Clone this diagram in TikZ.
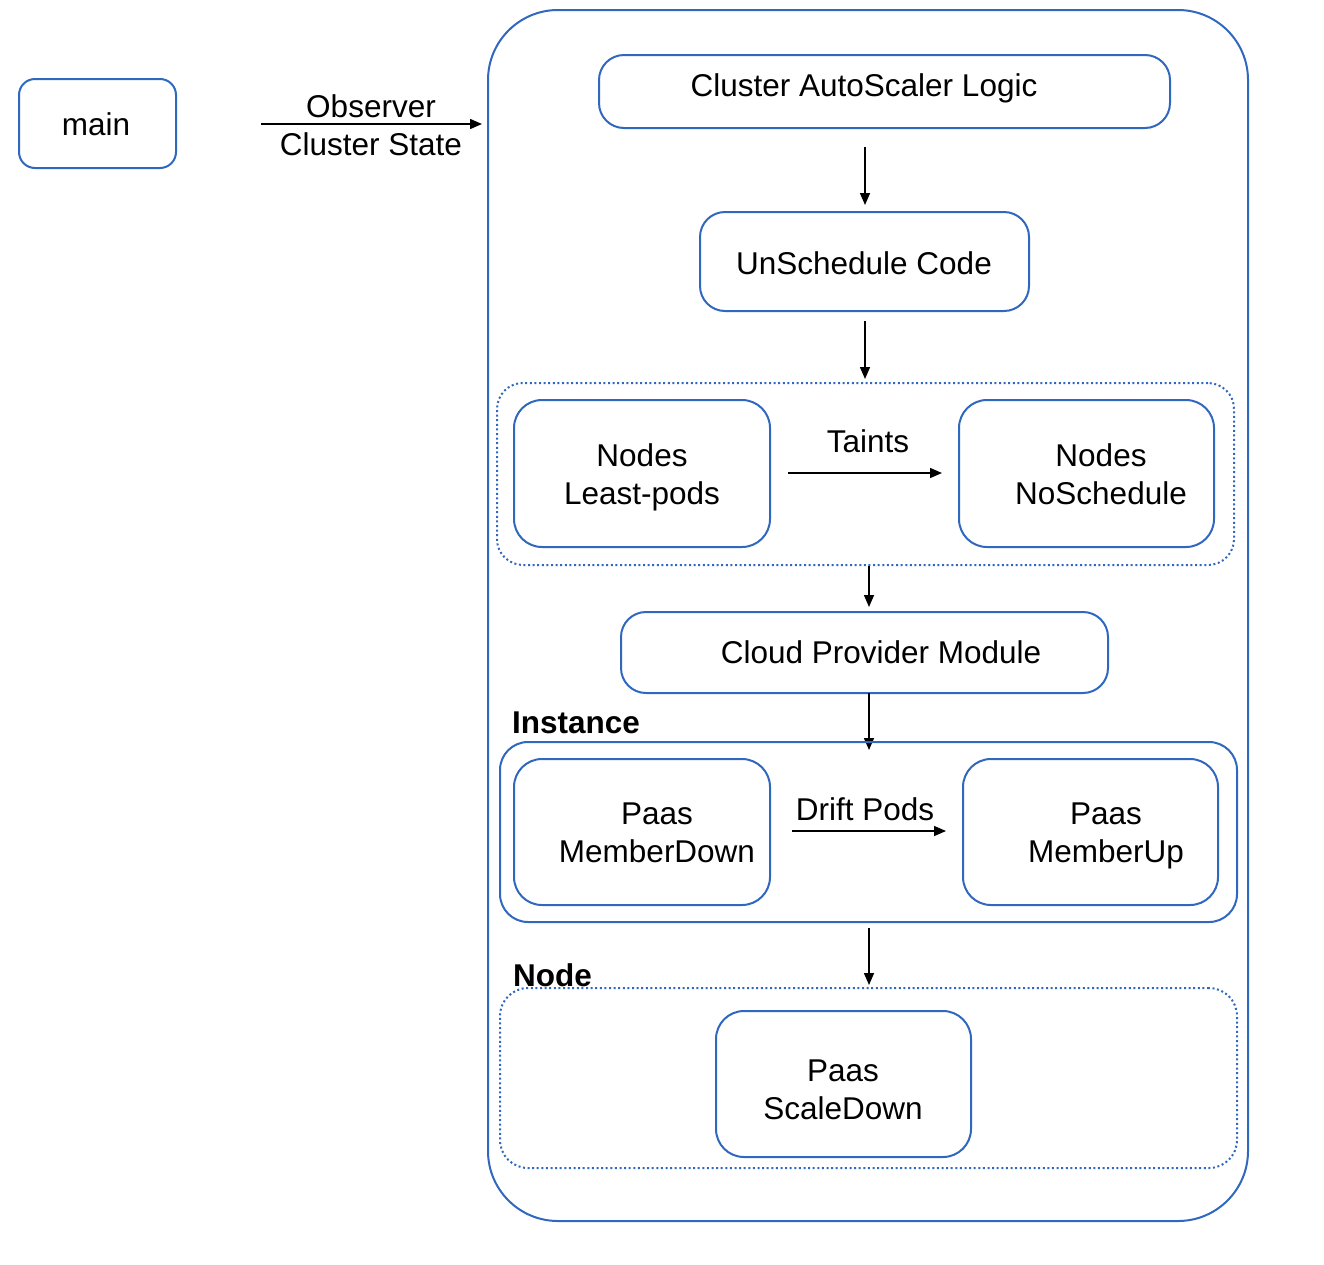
\documentclass[tikz,border=0pt]{standalone}
\usepackage{fontspec}
\setmainfont{Liberation Sans}
\usetikzlibrary{arrows.meta}
\definecolor{bblue}{HTML}{2F68BE}
\begin{document}
\begin{tikzpicture}[x=1pt,y=-1pt,
  box/.style={draw=bblue,line width=2pt,rounded corners=#1,inner sep=0pt},
  box/.default=25pt,
  dotbox/.style={draw=bblue,line width=2pt,dash pattern=on 2pt off 2.6pt,rounded corners=#1,inner sep=0pt},
  dotbox/.default=28pt,
  txt/.style={font=\fontsize{31.5}{38}\selectfont,align=center,inner sep=0pt,anchor=center},
  ttl/.style={font=\fontsize{31.5}{36}\selectfont\bfseries,inner sep=0pt,anchor=base west},
  arr/.style={line width=1.5pt,-{Triangle[length=12pt,width=10pt]}}]
\useasboundingbox (0,0) rectangle (1324,1264);
% main
\node[box=16pt,minimum width=157pt,minimum height=89pt] (main) at (97.5,123.5) {};
\node[txt] (maint) at (96,124) {main};
% outer
\node[box=70pt,minimum width=760pt,minimum height=1211pt] (outer) at (868,615.5) {};
\coordinate (obsA) at (261,124);
\coordinate (obsB) at (482,124);
\draw[arr] (obsA) -- (obsB);
\node[txt] (obs1) at (371,106) {Observer};
\node[txt] (obs2) at (371,144) {Cluster State};
% Cluster AutoScaler Logic
\node[box,minimum width=571pt,minimum height=73pt] (cal) at (884.5,91.5) {};
\node[txt] (calt) at (864,88) {Cluster AutoScaler Logic};
\coordinate (a1s) at (865,147);
\coordinate (a1e) at (865,205);
\draw[arr] (a1s) -- (a1e);
% UnSchedule Code
\node[box,minimum width=329pt,minimum height=99pt] (usc) at (864.5,261.5) {};
\node[txt] (usct) at (864,263) {UnSchedule Code};
\coordinate (a2s) at (865,321);
\coordinate (a2e) at (865,379);
\draw[arr] (a2s) -- (a2e);
% dotted group 1
\node[dotbox=26pt,minimum width=737pt,minimum height=182pt] (grp1) at (865.5,474) {};
\node[box=28pt,minimum width=256pt,minimum height=147pt] (nlp) at (642,473.5) {};
\node[txt] (nlpt) at (642,477) {Nodes\\Least-pods};
\node[box=28pt,minimum width=255pt,minimum height=147pt] (nns) at (1086.5,473.5) {};
\node[txt] (nnst) at (1101,474) {Nodes\\NoSchedule};
\coordinate (tas) at (788,473);
\coordinate (tae) at (942,473);
\draw[arr] (tas) -- (tae);
\node[txt] (taint) at (868,441) {Taints};
\coordinate (a3s) at (869,566);
\coordinate (a3e) at (869,607);
\draw[arr] (a3s) -- (a3e);
% Cloud Provider Module
\node[box,minimum width=487pt,minimum height=81pt] (cpm) at (864.5,652.5) {};
\node[txt] (cpmt) at (881,652) {Cloud Provider Module};
\coordinate (a4s) at (869,693);
\coordinate (a4e) at (869,750);
\draw[arr] (a4s) -- (a4e);
% Instance group
\node[ttl] (inst) at (512,733) {Instance};
\node[box=28pt,minimum width=737pt,minimum height=180pt] (grp2) at (868.5,832) {};
\node[box=28pt,minimum width=256pt,minimum height=146pt] (pmd) at (642,832) {};
\node[txt] (pmdt) at (657,833) {Paas\\MemberDown};
\node[box=28pt,minimum width=255pt,minimum height=146pt] (pmu) at (1090.5,832) {};
\node[txt] (pmut) at (1106,836) {Paas\\MemberUp};
\coordinate (dps) at (792,831);
\coordinate (dpe) at (946,831);
\draw[arr] (dps) -- (dpe);
\node[txt] (drift) at (865,809) {Drift Pods};
\coordinate (a5s) at (869,928);
\coordinate (a5e) at (869,985);
\draw[arr] (a5s) -- (a5e);
% Node group
\node[ttl] (nodel) at (513,986) {Node};
\node[dotbox=28pt,minimum width=737pt,minimum height=180pt] (grp3) at (868.5,1078) {};
\node[box=28pt,minimum width=255pt,minimum height=146pt] (psd) at (843.5,1084) {};
\node[txt] (psdt) at (843,1090) {Paas\\ScaleDown};
\end{tikzpicture}
\end{document}
